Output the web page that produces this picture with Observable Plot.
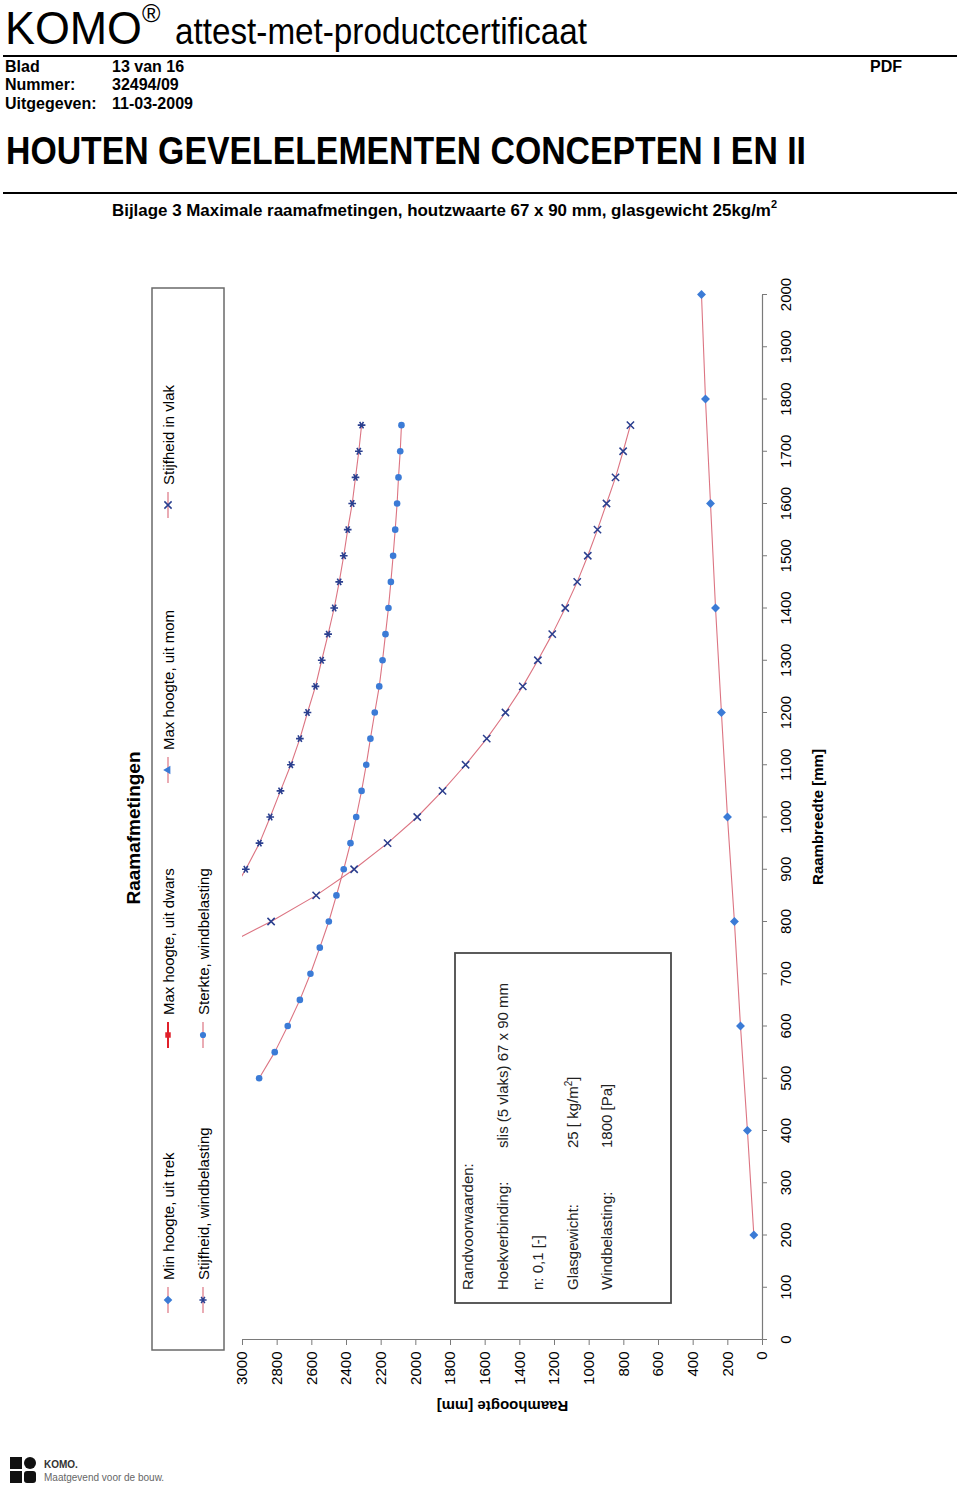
<!DOCTYPE html>
<html><head><meta charset="utf-8">
<script src="https://cdn.jsdelivr.net/npm/d3@7"></script>
<script src="https://cdn.jsdelivr.net/npm/@observablehq/plot@0.6"></script>
<style>
body{margin:0;background:#fff;font-family:"Liberation Sans",Arial,sans-serif;color:#000;}
#page{position:relative;width:960px;height:1487px;overflow:hidden;background:#fff;}
.abs{position:absolute;white-space:nowrap;line-height:1;transform-origin:0 0;}
.b{font-weight:bold;}
.hr{position:absolute;left:3px;width:954px;height:2px;background:#000;}
#chart{position:absolute;left:100px;top:265px;width:1160px;height:745px;max-width:none !important;transform-origin:0 0;transform:translateY(1160px) rotate(-90deg);}
</style></head><body><div id="page">
<div class="abs fit" data-w="137" style="left:5px;top:5px;font-size:46px;">KOMO</div>
<div class="abs" style="left:142px;top:1px;font-size:25px;">®</div>
<div class="abs fit" data-w="412" style="left:175px;top:14px;font-size:36px;">attest-met-productcertificaat</div>
<div class="hr" style="top:55px;"></div>
<div class="abs b" style="left:5px;top:59px;font-size:16px;">Blad</div>
<div class="abs b" style="left:112px;top:59px;font-size:16px;">13 van 16</div>
<div class="abs b" style="left:870px;top:59px;font-size:16px;">PDF</div>
<div class="abs b" style="left:5px;top:77px;font-size:16px;">Nummer:</div>
<div class="abs b" style="left:112px;top:77px;font-size:16px;">32494/09</div>
<div class="abs b" style="left:5px;top:96px;font-size:16px;">Uitgegeven:</div>
<div class="abs b" style="left:112px;top:96px;font-size:16px;">11-03-2009</div>
<div class="abs b fit" data-w="800" style="left:6px;top:132px;font-size:38px;">HOUTEN GEVELELEMENTEN CONCEPTEN I EN II</div>
<div class="hr" style="top:192px;"></div>
<div class="abs b fit" data-w="665" style="left:112px;top:202px;font-size:17px;">Bijlage 3 Maximale raamafmetingen, houtzwaarte 67 x 90 mm, glasgewicht 25kg/m<sup style="font-size:11px;position:relative;top:-3px;vertical-align:top;">2</sup></div>
<svg style="position:absolute;left:10px;top:1457px;" width="200" height="28">
  <rect x="0" y="0" width="12" height="12" fill="#111"/><rect x="14" y="0" width="12" height="12" rx="6" fill="#111"/>
  <rect x="0" y="14" width="12" height="12" fill="#111"/><rect x="14" y="14" width="12" height="12" rx="3" fill="#111"/>
  <text x="34" y="11" font-size="10" font-weight="bold" fill="#333" font-family="Liberation Sans, Arial">KOMO.</text>
  <text x="34" y="24" font-size="10" fill="#666" font-family="Liberation Sans, Arial">Maatgevend voor de bouw.</text>
</svg>
<div id="chartHolder"></div>
</div>
<script>
// ---- data ----
const breedteTicks = [0,100,200,300,400,500,600,700,800,900,1000,1100,1200,1300,1400,1500,1600,1700,1800,1900,2000];
const hoogteTicks = [0,200,400,600,800,1000,1200,1400,1600,1800,2000,2200,2400,2600,2800,3000];

const seriesNames = ["Min hoogte, uit trek","Max hoogte, uit dwars","Max hoogte, uit mom","Stijfheid in vlak","Stijfheid, windbelasting","Sterkte, windbelasting"];

const breedteMinTrek = [200,400,600,800,1000,1200,1400,1600,1800,2000];
const hoogteMinTrek  = [50,87,127,162,202,237,271,300,329,352];

const breedteSterkte = [1750,1700,1650,1600,1550,1500,1450,1400,1350,1300,1250,1200,1150,1100,1050,1000,950,900,850,800,750,700,650,600,550,500];
const hoogteSterkte  = [2083,2090,2100,2108,2119,2131,2144,2158,2175,2192,2211,2237,2262,2286,2313,2344,2377,2416,2458,2502,2554,2608,2669,2739,2814,2904];

const breedteStijfWind = [1750,1700,1650,1600,1550,1500,1450,1400,1350,1300,1250,1200,1150,1100,1050,1000,950,900,850];
const hoogteStijfWind  = [2313,2329,2348,2367,2393,2416,2442,2471,2506,2543,2579,2625,2669,2721,2781,2840,2902,2981,3070];

const breedteStijfVlak = [1750,1700,1650,1600,1550,1500,1450,1400,1350,1300,1250,1200,1150,1100,1050,1000,950,900,850,800,750];
const hoogteStijfVlak  = [762,804,848,900,952,1008,1069,1138,1213,1296,1383,1483,1591,1713,1846,1992,2163,2356,2575,2835,3130];

const randLabels = ["Randvoorwaarden:","Hoekverbinding:","n: 0,1 [-]","Glasgewicht:","Windbelasting:"];
const randValues = ["","slis (5 vlaks) 67 x 90 mm","","25 [ kg/m²]","1800 [Pa]"];

// ---- styles ----
const lineColor = "#dc7482";
const blue = "#3b7bd6";
const navy = "#2a3f8f";

const rows = (xs, ys) => xs.map((x, i) => ({breedte: x, hoogte: ys[i]}));
const minTrek = rows(breedteMinTrek, hoogteMinTrek);
const sterkte = rows(breedteSterkte, hoogteSterkte);
const stijfWind = rows(breedteStijfWind, hoogteStijfWind);
const stijfVlak = rows(breedteStijfVlak, hoogteStijfVlak);

const chart = Plot.plot({
  width: 1160, height: 745,
  marginLeft: 85, marginRight: 30, marginTop: 142, marginBottom: 83,
  style: {fontFamily: "Liberation Sans, Arial, sans-serif", fontSize: "15px", color: "#000", background: "transparent", maxWidth: "none"},
  x: {domain: [0, 2000]},
  y: {domain: [0, 3000]},
  marks: [
    Plot.ruleY([0], {stroke: "#7a7a7a", strokeWidth: 1.2}),
    Plot.ruleX([0], {stroke: "#7a7a7a", strokeWidth: 1.2}),
    Plot.axisX({ticks: breedteTicks, tickSize: 5, tickPadding: 13, tickFormat: d => String(d), stroke: "#7a7a7a",
      label: "Raambreedte [mm]", labelAnchor: "center", labelArrow: "none", labelOffset: 60}),
    Plot.axisY({ticks: hoogteTicks, tickSize: 5, tickPadding: 7, tickFormat: d => String(d), stroke: "#7a7a7a",
      label: "Raamhoogte [mm]", labelAnchor: "center", labelArrow: "none", labelOffset: 72}),
    Plot.line(minTrek, {x: "breedte", y: "hoogte", stroke: lineColor, strokeWidth: 1.1}),
    Plot.line(sterkte, {x: "breedte", y: "hoogte", stroke: lineColor, strokeWidth: 1.1, clip: true}),
    Plot.line(stijfWind, {x: "breedte", y: "hoogte", stroke: lineColor, strokeWidth: 1.1, clip: true}),
    Plot.line(stijfVlak, {x: "breedte", y: "hoogte", stroke: lineColor, strokeWidth: 1.1, clip: true}),
    Plot.dot(minTrek, {x: "breedte", y: "hoogte", symbol: "diamond2", fill: blue, r: 4}),
    Plot.dot(sterkte, {x: "breedte", y: "hoogte", symbol: "circle", fill: blue, r: 3.3, clip: true}),
    Plot.dot(stijfWind, {x: "breedte", y: "hoogte", symbol: "asterisk", stroke: navy, strokeWidth: 1.6, r: 3.6, clip: true}),
    Plot.dot(stijfVlak, {x: "breedte", y: "hoogte", symbol: "times", stroke: navy, strokeWidth: 1.5, r: 3.4, clip: true})
  ]
});
chart.id = "chart";
document.getElementById("chartHolder").appendChild(chart);

const svg = d3.select(chart);
svg.selectAll('[aria-label="x-axis label"] text, [aria-label="y-axis label"] text').attr("font-weight", "bold");

// Title & legend (unrotated frame)
const ann = svg.append("g").attr("font-family", "Liberation Sans, Arial, sans-serif").attr("text-anchor", "start");
ann.append("text").attr("x", 597).attr("y", 40).attr("text-anchor", "middle")
  .attr("font-size", 19).attr("font-weight", "bold").text("Raamafmetingen");
ann.append("rect").attr("x", 75).attr("y", 52).attr("width", 1062).attr("height", 72)
  .attr("fill", "none").attr("stroke", "#6a6a6a").attr("stroke-width", 1.5);

const legendPos = [[125,68],[390,68],[655,68],[920,68],[125,103],[390,103]];
const legendStyle = [
  {line: lineColor, sym: d3.symbolDiamond2, fill: blue, size: 48},
  {line: "#e0202a", sym: d3.symbolSquare, fill: "#e0202a", size: 30, lw: 2},
  {line: lineColor, sym: d3.symbolTriangle, fill: blue, size: 30},
  {line: lineColor, sym: d3.symbolTimes, stroke: navy, size: 36},
  {line: lineColor, sym: d3.symbolAsterisk, stroke: navy, size: 36},
  {line: lineColor, sym: d3.symbolCircle, fill: blue, size: 30}
];
seriesNames.forEach((name, i) => {
  const [u, v] = legendPos[i], st = legendStyle[i];
  const gi = ann.append("g");
  gi.append("line").attr("x1", u - 13).attr("x2", u + 13).attr("y1", v).attr("y2", v)
    .attr("stroke", st.line).attr("stroke-width", st.lw || 1.2);
  gi.append("path").attr("transform", `translate(${u},${v})`).attr("d", d3.symbol(st.sym, st.size)())
    .attr("fill", st.fill || "none").attr("stroke", st.stroke || "none").attr("stroke-width", 1.5);
  gi.append("text").attr("x", u + 20).attr("y", v + 5.5).attr("font-size", 15).text(name);
});

// Randvoorwaarden box
ann.append("rect").attr("x", 122).attr("y", 355).attr("width", 350).attr("height", 216)
  .attr("fill", "#fff").attr("stroke", "#4a4a4a").attr("stroke-width", 1.8);
const lineY = [373, 408, 443, 478, 512];
randLabels.forEach((t, i) => {
  ann.append("text").attr("x", 135).attr("y", lineY[i]).attr("font-size", 15).attr("fill", "#222").text(t);
  if (randValues[i]) {
    const tx = ann.append("text").attr("x", 277).attr("y", lineY[i]).attr("font-size", 15).attr("fill", "#222");
    if (randValues[i].includes("²")) {
      tx.append("tspan").text("25 [ kg/m");
      tx.append("tspan").attr("font-size", 10).attr("dy", -6).text("2");
      tx.append("tspan").attr("dy", 6).text("]");
    } else tx.text(randValues[i]);
  }
});

// fit header widths
document.querySelectorAll(".fit").forEach(el => {
  const w = el.getBoundingClientRect().width;
  const target = +el.dataset.w;
  el.style.transform = `scaleX(${target / w})`;
});
</script>
</body></html>
